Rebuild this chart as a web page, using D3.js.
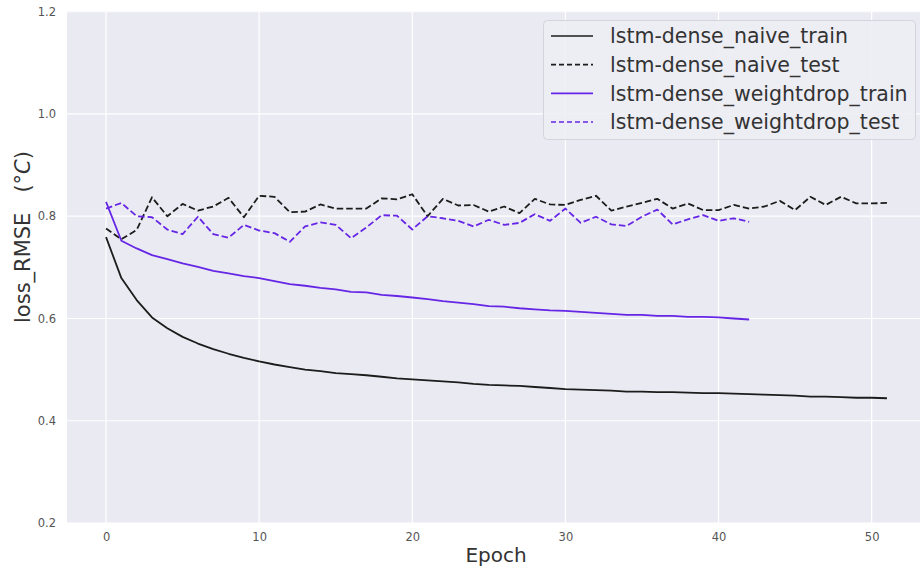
<!DOCTYPE html>
<html>
<head>
<meta charset="utf-8">
<script src="https://cdn.jsdelivr.net/npm/d3@7"></script>
<style>
  html, body { margin: 0; padding: 0; background: #ffffff; }
  svg text { font-family: "DejaVu Sans", sans-serif; }
</style>
</head>
<body>
<svg id="chart" width="920" height="572"></svg>
<script>
// Training curves: RMSE loss per epoch for two LSTM-dense variants
const naiveTrain = [0.759, 0.679, 0.636, 0.602, 0.581, 0.564, 0.551, 0.540, 0.531, 0.523,
  0.516, 0.510, 0.505, 0.500, 0.497, 0.493, 0.491, 0.489, 0.486, 0.483,
  0.481, 0.479, 0.477, 0.475, 0.472, 0.470, 0.469, 0.468, 0.466, 0.464,
  0.462, 0.461, 0.460, 0.459, 0.457, 0.457, 0.456, 0.456, 0.455, 0.454,
  0.454, 0.453, 0.452, 0.451, 0.450, 0.449, 0.447, 0.447, 0.446, 0.445,
  0.445, 0.444];
const naiveTest = [0.776, 0.755, 0.773, 0.837, 0.800, 0.824, 0.811, 0.819, 0.836, 0.798,
  0.840, 0.838, 0.808, 0.809, 0.823, 0.815, 0.815, 0.815, 0.835, 0.833,
  0.843, 0.800, 0.834, 0.821, 0.822, 0.809, 0.819, 0.806, 0.834, 0.823,
  0.822, 0.832, 0.840, 0.811, 0.819, 0.826, 0.834, 0.815, 0.825, 0.812,
  0.812, 0.822, 0.815, 0.819, 0.830, 0.812, 0.838, 0.822, 0.838, 0.825,
  0.825, 0.826];
const weightdropTrain = [0.828, 0.752, 0.737, 0.724, 0.716, 0.708, 0.701, 0.693, 0.688, 0.683,
  0.679, 0.673, 0.667, 0.664, 0.660, 0.657, 0.652, 0.651, 0.646, 0.644,
  0.641, 0.638, 0.634, 0.631, 0.628, 0.624, 0.623, 0.620, 0.618, 0.616,
  0.615, 0.613, 0.611, 0.609, 0.607, 0.607, 0.605, 0.605, 0.603, 0.603,
  0.602, 0.600, 0.598];
const weightdropTest = [0.815, 0.826, 0.800, 0.798, 0.774, 0.765, 0.799, 0.765, 0.758, 0.783,
  0.772, 0.767, 0.750, 0.780, 0.788, 0.783, 0.757, 0.778, 0.802, 0.801,
  0.774, 0.800, 0.796, 0.791, 0.780, 0.793, 0.783, 0.787, 0.804, 0.791,
  0.815, 0.787, 0.799, 0.784, 0.781, 0.799, 0.813, 0.784, 0.794, 0.802,
  0.791, 0.796, 0.789];

const seriesNames = ["lstm-dense_naive_train", "lstm-dense_naive_test",
  "lstm-dense_weightdrop_train", "lstm-dense_weightdrop_test"];
const xTicks = [0, 10, 20, 30, 40, 50];
const yTicks = [0.2, 0.4, 0.6, 0.8, 1.0, 1.2];

const BLACK = "#1c1c1c";
const PURPLE = "#6626e6";
const series = [
  { name: seriesNames[0], values: naiveTrain, color: BLACK, dash: null },
  { name: seriesNames[1], values: naiveTest, color: BLACK, dash: "6.5,3" },
  { name: seriesNames[2], values: weightdropTrain, color: PURPLE, dash: null },
  { name: seriesNames[3], values: weightdropTest, color: PURPLE, dash: "6.5,3" }
];

const svg = d3.select("#chart");
const plot = { left: 67, top: 11.7, right: 926, bottom: 523 };

const x = d3.scaleLinear().domain([-2.55, 53.55]).range([plot.left, plot.right]);
const y = d3.scaleLinear().domain([0.2, 1.2]).range([plot.bottom, plot.top]);

svg.append("defs").append("clipPath").attr("id", "plotclip")
  .append("rect")
  .attr("x", plot.left).attr("y", plot.top)
  .attr("width", plot.right - plot.left).attr("height", plot.bottom - plot.top);

// axes background
svg.append("rect")
  .attr("x", plot.left).attr("y", plot.top)
  .attr("width", plot.right - plot.left).attr("height", plot.bottom - plot.top)
  .attr("fill", "#eaeaf2");

// grid
const grid = svg.append("g").attr("clip-path", "url(#plotclip)");
grid.selectAll(".gx").data(xTicks).join("line")
  .attr("x1", d => x(d)).attr("x2", d => x(d))
  .attr("y1", plot.top).attr("y2", plot.bottom)
  .attr("stroke", "#ffffff").attr("stroke-width", 1.2);
grid.selectAll(".gy").data(yTicks).join("line")
  .attr("x1", plot.left).attr("x2", plot.right)
  .attr("y1", d => y(d)).attr("y2", d => y(d))
  .attr("stroke", "#ffffff").attr("stroke-width", 1.2);

// axes (tick labels only)
const xAxis = d3.axisBottom(x).tickValues(xTicks).tickFormat(d3.format("d")).tickSize(0).tickPadding(10);
const yAxis = d3.axisLeft(y).tickValues(yTicks).tickFormat(d3.format(".1f")).tickSize(0).tickPadding(11);

const gx = svg.append("g").attr("transform", `translate(0,${plot.bottom})`).call(xAxis);
const gy = svg.append("g").attr("transform", `translate(${plot.left},0)`).call(yAxis);
[gx, gy].forEach(g => {
  g.select(".domain").remove();
  g.selectAll("text")
    .attr("fill", "#555555")
    .style("font-family", "'DejaVu Sans', sans-serif")
    .style("font-size", "11.5px");
});

// axis titles
svg.append("text")
  .attr("x", 496).attr("y", 562)
  .attr("text-anchor", "middle")
  .attr("fill", "#333333")
  .style("font-size", "20px")
  .text("Epoch");

const yl = svg.append("text")
  .attr("transform", "translate(30,237) rotate(-90)")
  .attr("text-anchor", "middle")
  .attr("fill", "#333333")
  .style("font-size", "21px");
yl.append("tspan").text("loss_RMSE\u00a0\u00a0\u00a0(°");
yl.append("tspan").style("font-style", "italic").text("C");
yl.append("tspan").text(")");

// lines
const line = d3.line().x((d, i) => x(i)).y(d => y(d));
const lines = svg.append("g").attr("clip-path", "url(#plotclip)");
lines.selectAll("path").data(series).join("path")
  .attr("d", d => line(d.values))
  .attr("fill", "none")
  .attr("stroke", d => d.color)
  .attr("stroke-width", 1.8)
  .attr("stroke-dasharray", d => d.dash)
  .attr("stroke-linejoin", "round");

// legend
const legend = svg.append("g");
legend.append("rect")
  .attr("x", 543.5).attr("y", 20.5)
  .attr("width", 372).attr("height", 119)
  .attr("rx", 4).attr("ry", 4)
  .attr("fill", "#ededf4").attr("fill-opacity", 0.9)
  .attr("stroke", "#d4d4dc").attr("stroke-width", 1);

const rowY = d3.scalePoint().domain(seriesNames).range([36, 122]);
const items = legend.selectAll(".item").data(series).join("g")
  .attr("transform", d => `translate(0,${rowY(d.name)})`);
items.append("line")
  .attr("x1", 551).attr("x2", 593).attr("y1", 0).attr("y2", 0)
  .attr("stroke", d => d.color)
  .attr("stroke-width", 1.6)
  .attr("stroke-dasharray", d => d.dash ? "5,3" : null);
items.append("text")
  .attr("x", 610).attr("y", 0).attr("dy", "0.35em")
  .attr("fill", "#333333")
  .style("font-size", "20.5px")
  .text(d => d.name);
</script>
</body>
</html>
